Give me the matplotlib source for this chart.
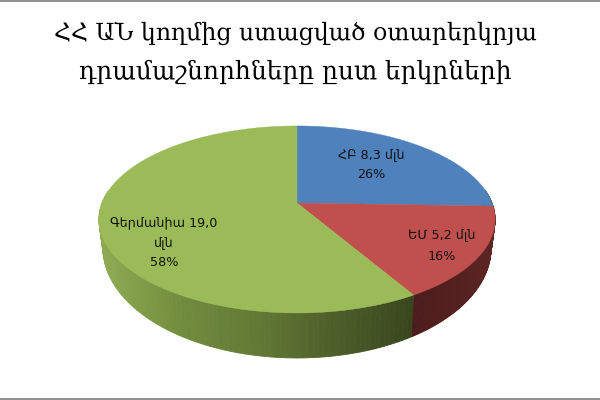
import numpy as np
import matplotlib
matplotlib.use("Agg")
import matplotlib.pyplot as plt
from matplotlib.patches import Polygon, Rectangle
from matplotlib.colors import to_rgb

# data
categories = ["ՀԲ 8,3 մլն", "ԵՄ 5,2 մլն", "Գերմանիա 19,0\nմլն"]
values = [8.3, 5.2, 19.0]
percent_labels = ["26%", "16%", "58%"]
title_lines = ["ՀՀ ԱՆ կողմից ստացված օտարերկրյա", "դրամաշնորհները ըստ երկրների"]
top_colors = ["#4F81BD", "#C0504D", "#9BBB59"]

fig = plt.figure(figsize=(6, 4), dpi=100)
ax = fig.add_axes([0, 0, 1, 1])
ax.set_xlim(0, 600)
ax.set_ylim(400, 0)
ax.axis("off")

# perspective projection of the unit disc
K = 0.176
CX = 297
TOP = dict(a=195, b=90.6, y0=203)
BOT = dict(a=191, b=106.6, y0=228.6)


def project(theta, r, p):
    x = r * np.sin(theta)
    y = -r * np.cos(theta)
    w = 1 - K * y
    return CX + p["a"] * x / w, p["y0"] + p["b"] * y / w


fractions = np.array(values) / np.sum(values)
edges = np.concatenate([[0], np.cumsum(fractions)]) * 2 * np.pi


def side_color(i, x):
    if i == 1:
        t = np.clip((x - 412) / 80, 0, 1)
        return tuple((1 - t) * np.array(to_rgb("#4A1C1B")) + t * np.array(to_rgb("#5C2524")))
    stops_x = [100, 180, 260, 340, 412]
    stops = [to_rgb(c) for c in ("#8FAB52", "#728C3E", "#617835", "#4B5D29", "#39461D")]
    return tuple(np.interp(x, stops_x, [s[k] for s in stops]) for k in range(3))


# side wall, only the part facing the viewer
for i in range(len(values)):
    th = np.linspace(edges[i], edges[i + 1], 160)
    th = th[np.cos(th) < 0.15]
    for t0, t1 in zip(th[:-1], th[1:]):
        xa, ya = project(t0, 1, TOP)
        xb, yb = project(t1, 1, TOP)
        xc, yc = project(t1, 1, BOT)
        xd, yd = project(t0, 1, BOT)
        c = side_color(i, (xa + xb) / 2)
        ax.add_patch(Polygon([(xa, ya), (xb, yb), (xc, yc), (xd, yd)], closed=True,
                             facecolor=c, edgecolor=c, linewidth=0.6, zorder=2))

# top face
for i in range(len(values)):
    th = np.linspace(edges[i], edges[i + 1], 200)
    xs, ys = project(th, 1, TOP)
    pts = [(CX, TOP["y0"])] + list(zip(xs, ys))
    ax.add_patch(Polygon(pts, closed=True, facecolor=top_colors[i],
                         edgecolor=top_colors[i], linewidth=0.3, zorder=3))

# labels
label_pos = [(371, 165), (442, 246), (164, 243)]
for name, pct, (x, y) in zip(categories, percent_labels, label_pos):
    ax.text(x, y, name + "\n" + pct, ha="center", va="center", fontsize=9.2,
            color="#111111", family=["DejaVu Sans"], linespacing=1.7, zorder=5)

# title
for line, y, size in zip(title_lines, (33, 72), (17, 17.9)):
    ax.text(295, y, line, ha="center", va="center", fontsize=size,
            color="#000000", family=["DejaVu Serif"], zorder=5)

# frame at top and bottom
ax.add_patch(Rectangle((0, 0), 600, 2, facecolor="#909090", edgecolor="none", zorder=6))
ax.add_patch(Rectangle((0, 398), 600, 2, facecolor="#909090", edgecolor="none", zorder=6))

fig.savefig("out.png", dpi=100, facecolor="white")
